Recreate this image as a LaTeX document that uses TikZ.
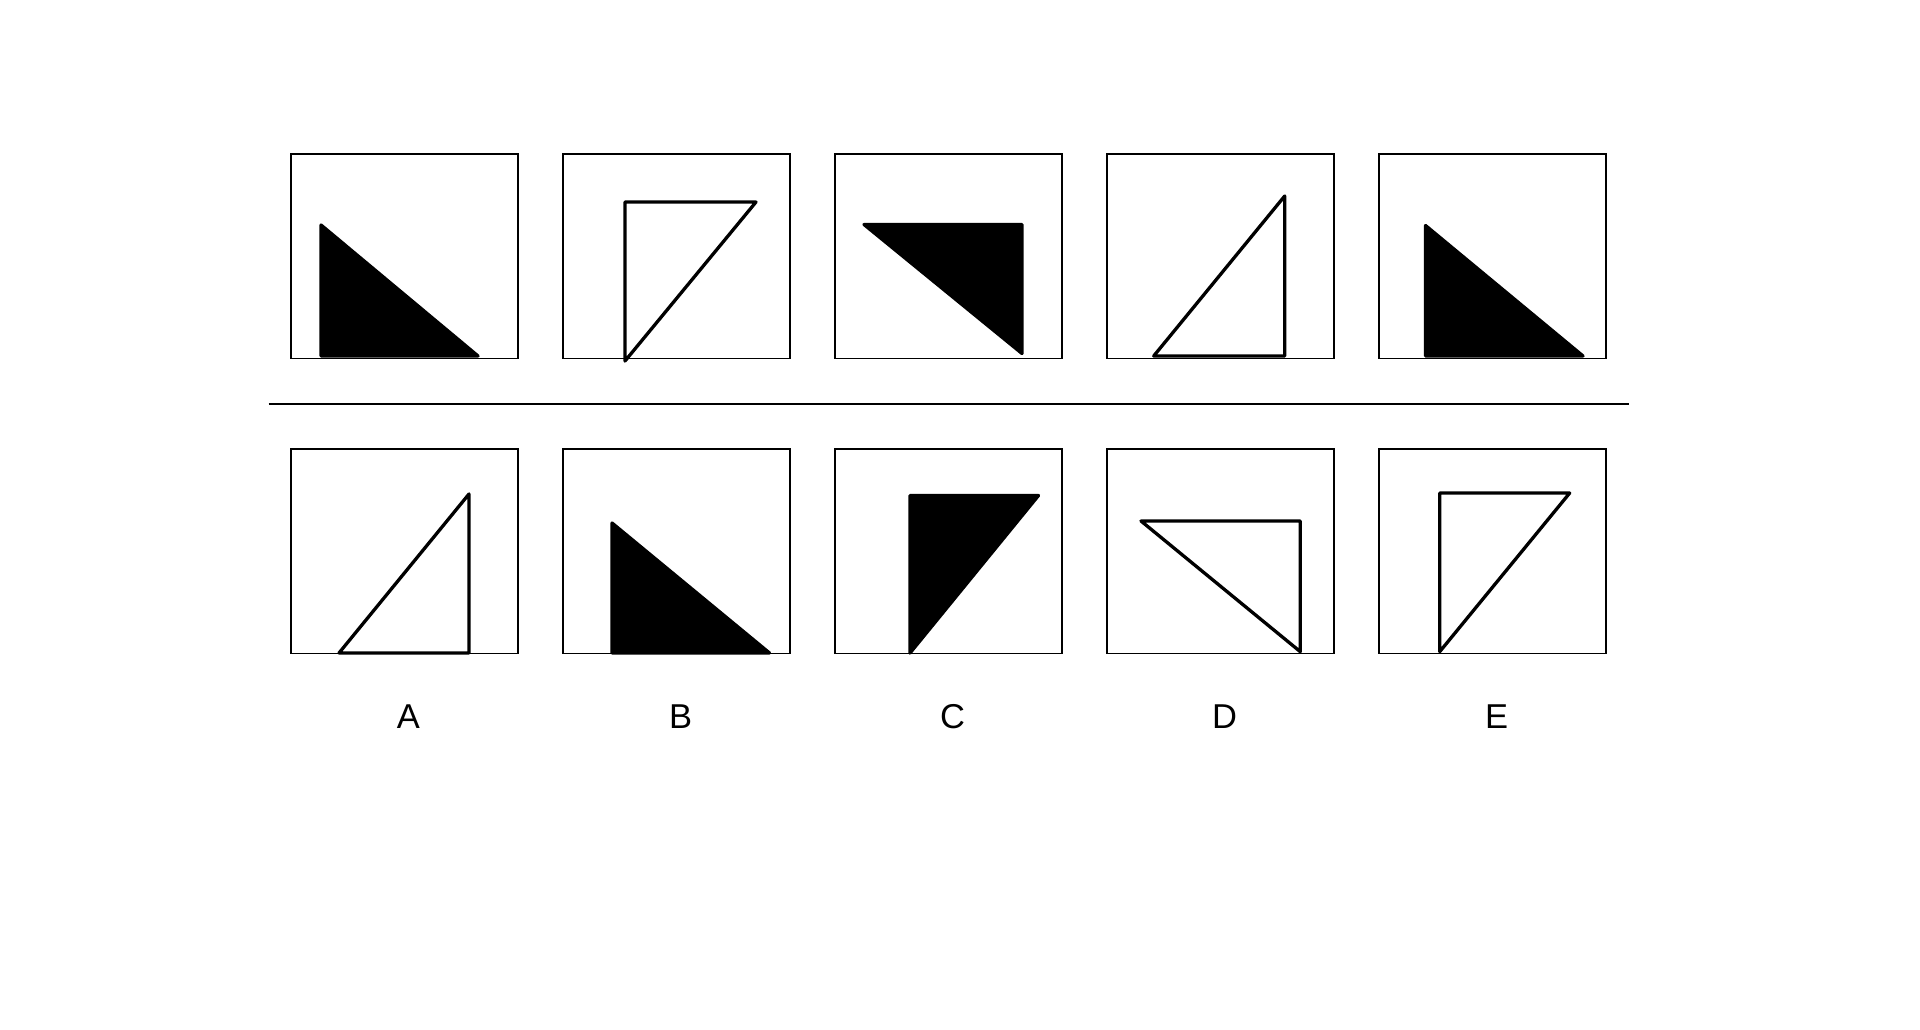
\documentclass[tikz,border=0pt]{standalone}
\usepackage{fontspec}
\setmainfont{Liberation Sans}
\usepackage{tikz}
\usetikzlibrary{calc}
\tikzset{
  frame/.style={draw,line width=1.5pt},
  tri/.style={draw,line width=3.3pt,line join=round,line cap=round},
  filltri/.style={tri,fill=black},
  optlabel/.style={font=\fontsize{34.5}{40}\selectfont,inner sep=0pt}
}
\begin{document}
\begin{tikzpicture}[x=1pt,y=-1pt]
\useasboundingbox (0,0) rectangle (1920,1030);
% frames of both rows
\foreach \i in {1,...,5}{
  \coordinate (T\i) at ({291+272*(\i-1)},154);
  \coordinate (B\i) at ({291+272*(\i-1)},449);
  \draw[frame] (T\i) rectangle ++(227,204.3);
  \draw[frame] (B\i) rectangle ++(227,204.3);
}
% top row
\draw[filltri] (T1) ++(30,71) -- ++(0,131) -- ++(157,0) -- cycle;
\draw[tri] (T2) ++(62,48) -- ++(131,0) -- ++(-131,159) -- cycle;
\draw[filltri] (T3) ++(29,70.5) -- ++(158,0) -- ++(0,129) -- cycle;
\draw[tri] (T4) ++(46.7,202) -- ++(131,0) -- ++(0,-160) -- cycle;
\draw[filltri] (T5) ++(46.5,71.5) -- ++(0,130.5) -- ++(157.5,0) -- cycle;
% separator
\coordinate (sepL) at (268.5,403.5);
\coordinate (sepR) at (1629,403.5);
\draw[line width=2pt] (sepL) -- (sepR);
% answer row
\draw[tri] (B1) ++(48,204) -- ++(130,0) -- ++(0,-159) -- cycle;
\draw[filltri] (B2) ++(49,74) -- ++(0,130) -- ++(157.5,0) -- cycle;
\draw[filltri] (B3) ++(75,46.5) -- ++(128.5,0) -- ++(-128.5,157.5) -- cycle;
\draw[tri] (B4) ++(34,72) -- ++(159.3,0) -- ++(0,130.7) -- cycle;
\draw[tri] (B5) ++(60.7,44) -- ++(130,0) -- ++(-130,158.7) -- cycle;
\foreach \i/\t in {1/A,2/B,3/C,4/D,5/E}
  \node[optlabel] (lab\t) at ($(B\i)+(117.5,268)$) {\t};
\end{tikzpicture}
\end{document}
